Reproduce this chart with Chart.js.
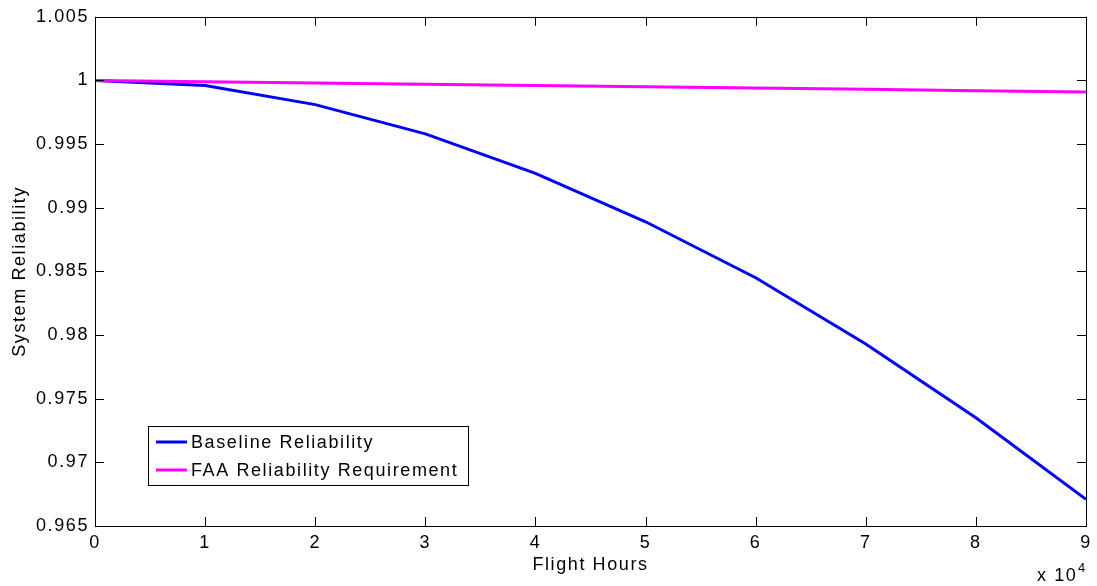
<!DOCTYPE html>
<html>
<head>
<meta charset="utf-8">
<script src="https://cdn.jsdelivr.net/npm/chart.js@4.4.0/dist/chart.umd.min.js"></script>
<style>
  html, body { margin: 0; padding: 0; background: #fff; }
  #wrap { width: 1097px; height: 586px; }
</style>
</head>
<body>
<div id="wrap"><canvas id="chart" width="1097" height="586"></canvas></div>
<script>
// flight hours in units of 10^4
var flightHours = [0, 1, 2, 3, 4, 5, 6, 7, 8, 9];
var baseline = [1.0000, 0.9996, 0.9981, 0.9958, 0.9927, 0.9889, 0.9845, 0.9793, 0.9735, 0.9671];
var faaReq = [1.0000, 0.9999, 0.9998, 0.9997, 0.9996, 0.9995, 0.9994, 0.9993, 0.9992, 0.9991];
var seriesNames = ["Baseline Reliability", "FAA Reliability Requirement"];
var xTickLabels = ["0", "1", "2", "3", "4", "5", "6", "7", "8", "9"];
var yTicks = [0.965, 0.97, 0.975, 0.98, 0.985, 0.99, 0.995, 1, 1.005];
var yTickLabels = ["0.965", "0.97", "0.975", "0.98", "0.985", "0.99", "0.995", "1", "1.005"];

var FONT = "'Liberation Sans', Arial, Helvetica, sans-serif";
var SPACING = "1.6px";

function toPoints(vals) {
    var pts = [];
    for (var i = 0; i < vals.length; i++)
        pts.push({x: flightHours[i], y: vals[i]});
    return pts;
}

var matlabStyle = {
    id: "matlabStyle",
    beforeDraw: function(chart) {
        chart.ctx.letterSpacing = SPACING;
    },
    afterDraw: function(chart) {
        var ctx = chart.ctx;
        var ca = chart.chartArea;
        var xs = chart.scales.x, ys = chart.scales.y;
        var tl = 9;

        ctx.save();
        ctx.letterSpacing = SPACING;
        ctx.strokeStyle = "#000";
        ctx.lineWidth = 1;

        // inward ticks on all four sides
        ctx.beginPath();
        for (var i = 0; i < flightHours.length; i++) {
            var px = Math.round(xs.getPixelForValue(flightHours[i])) + 0.5;
            ctx.moveTo(px, ca.bottom); ctx.lineTo(px, ca.bottom - tl);
            ctx.moveTo(px, ca.top); ctx.lineTo(px, ca.top + tl);
        }
        for (var j = 0; j < yTicks.length; j++) {
            var py = Math.round(ys.getPixelForValue(yTicks[j])) + 0.5;
            ctx.moveTo(ca.left, py); ctx.lineTo(ca.left + tl, py);
            ctx.moveTo(ca.right, py); ctx.lineTo(ca.right - tl, py);
        }
        ctx.stroke();

        // box
        ctx.strokeRect(Math.round(ca.left) + 0.5, Math.round(ca.top) + 0.5,
            Math.round(ca.right - ca.left), Math.round(ca.bottom - ca.top));

        // legend
        var lx = ca.left + 53, ly = ca.bottom - 100, lw = 320, lh = 59;
        ctx.fillStyle = "#fff";
        ctx.fillRect(lx, ly, lw, lh);
        ctx.strokeRect(lx + 0.5, ly + 0.5, lw, lh);
        ctx.font = "18px " + FONT;
        ctx.textBaseline = "middle";
        ctx.textAlign = "left";
        chart.data.datasets.forEach(function(ds, k) {
            var rowY = ly + 16 + k * 28;
            ctx.strokeStyle = ds.borderColor;
            ctx.lineWidth = 3;
            ctx.beginPath();
            ctx.moveTo(lx + 8, rowY);
            ctx.lineTo(lx + 39, rowY);
            ctx.stroke();
            ctx.fillStyle = "#000";
            ctx.fillText(ds.label, lx + 43, rowY + 1);
        });

        // x 10^4 multiplier
        ctx.textBaseline = "alphabetic";
        ctx.textAlign = "left";
        ctx.fillStyle = "#000";
        ctx.font = "18px " + FONT;
        ctx.fillText("x 10", 1037, 581);
        ctx.font = "13px " + FONT;
        ctx.fillText("4", 1078, 572);
        ctx.restore();
    }
};

var chartCanvas = document.getElementById("chart");
var myChart = new Chart(chartCanvas, {
    type: "line",
    data: {
        datasets: [
            {
                label: seriesNames[0],
                data: toPoints(baseline),
                borderColor: "#0000ff",
                borderWidth: 3,
                pointRadius: 0,
                tension: 0,
                fill: false,
                order: 2
            },
            {
                label: seriesNames[1],
                data: toPoints(faaReq),
                borderColor: "#ff00ff",
                borderWidth: 3,
                pointRadius: 0,
                tension: 0,
                fill: false,
                order: 1
            }
        ]
    },
    options: {
        responsive: false,
        animation: false,
        devicePixelRatio: 1,
        layout: { padding: { top: 16, right: 10, left: 0, bottom: 0 } },
        plugins: {
            legend: { display: false },
            tooltip: { enabled: false }
        },
        scales: {
            x: {
                type: "linear",
                min: 0,
                max: 9,
                afterBuildTicks: function(scale) {
                    scale.ticks = flightHours.map(function(v) { return {value: v}; });
                },
                afterFit: function(scale) { scale.height = 60; },
                grid: { display: false, drawTicks: false },
                border: { display: false },
                ticks: {
                    autoSkip: false,
                    maxRotation: 0,
                    padding: 6,
                    color: "#000",
                    font: { family: FONT, size: 18 },
                    callback: function(v, i) { return xTickLabels[i]; }
                },
                title: {
                    display: true,
                    text: "Flight Hours",
                    color: "#000",
                    font: { family: FONT, size: 18 },
                    padding: { top: 0, bottom: 10 }
                }
            },
            y: {
                type: "linear",
                min: 0.965,
                max: 1.005,
                afterBuildTicks: function(scale) {
                    scale.ticks = yTicks.map(function(v) { return {value: v}; });
                },
                afterFit: function(scale) { scale.width = 95; },
                grid: { display: false, drawTicks: false },
                border: { display: false },
                ticks: {
                    autoSkip: false,
                    padding: 6,
                    color: "#000",
                    font: { family: FONT, size: 18 },
                    callback: function(v, i) { return yTickLabels[i]; }
                },
                title: {
                    display: true,
                    text: "System Reliability",
                    color: "#000",
                    font: { family: FONT, size: 18 },
                    padding: { top: 9, bottom: 0 }
                }
            }
        }
    },
    plugins: [matlabStyle]
});
</script>
</body>
</html>
